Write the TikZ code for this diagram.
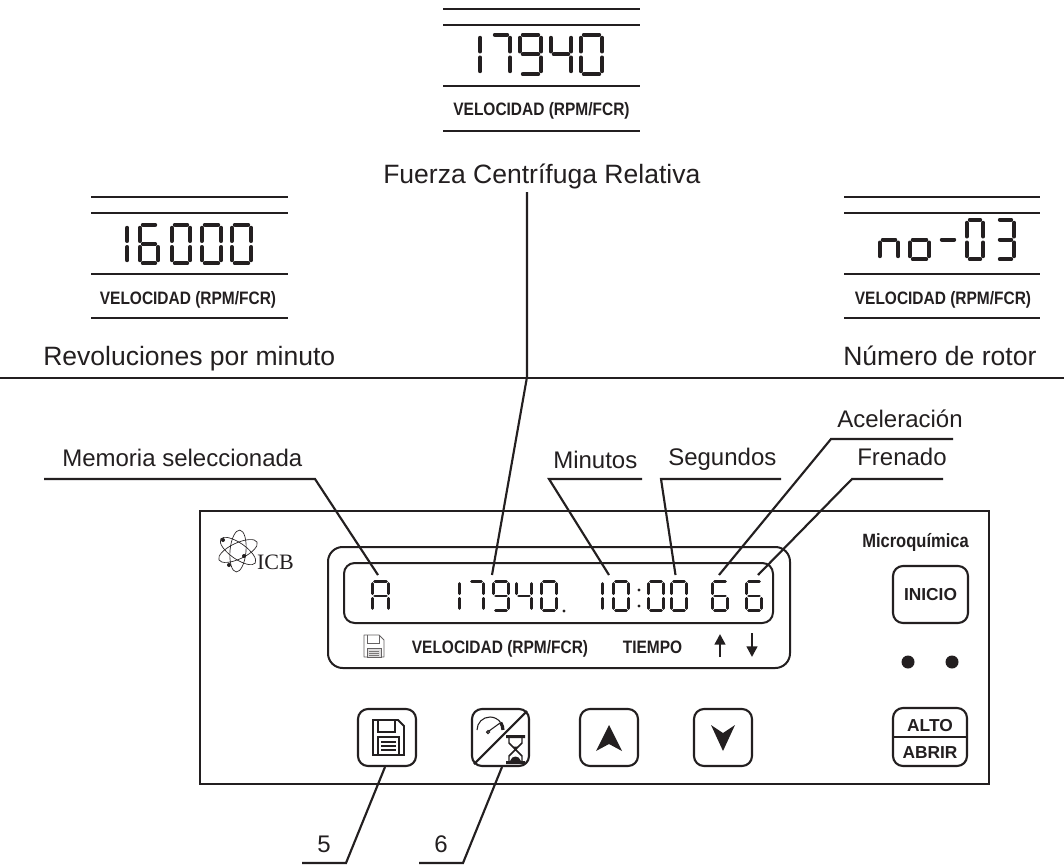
\documentclass[tikz,border=0pt]{standalone}
\usepackage{fontspec}
\usetikzlibrary{arrows.meta}
\setmainfont{Liberation Sans}
\newfontfamily\logofont{Liberation Serif}
\newfontfamily\narrowbold[FakeStretch=0.86]{Liberation Sans Bold}
\definecolor{ink}{HTML}{231F20}
\def\sgap{3}
\def\sinset{1.8}
\newcommand{\sevenseg}[6][]{%
  \pgfmathsetmacro\sxa{#2+\sinset}\pgfmathsetmacro\sya{#3+\sinset}%
  \pgfmathsetmacro\sxb{#4-\sinset}\pgfmathsetmacro\syb{#5-\sinset}%
  \pgfmathsetmacro\sym{(\sya+\syb)/2}%
  \coordinate (a1) at (\sxa+\sgap,\sya); \coordinate (a2) at (\sxb-\sgap,\sya);
  \coordinate (b1) at (\sxb,\sya+\sgap); \coordinate (b2) at (\sxb,\sym-\sgap);
  \coordinate (c1) at (\sxb,\sym+\sgap); \coordinate (c2) at (\sxb,\syb-\sgap);
  \coordinate (d1) at (\sxa+\sgap,\syb); \coordinate (d2) at (\sxb-\sgap,\syb);
  \coordinate (e1) at (\sxa,\sym+\sgap); \coordinate (e2) at (\sxa,\syb-\sgap);
  \coordinate (f1) at (\sxa,\sya+\sgap); \coordinate (f2) at (\sxa,\sym-\sgap);
  \coordinate (g1) at (\sxa+\sgap,\sym); \coordinate (g2) at (\sxb-\sgap,\sym);
  \foreach \s in {#6}{\draw[#1] (\s1) -- (\s2);}%
}
\tikzset{
  big seg/.style={ink,line width=3pt,line cap=round},
  lcd seg/.style={ink,line width=2.1pt,line cap=round},
  rule/.style={ink,line width=1.7pt},
  leader/.style={ink,line width=1.6pt,line join=miter},
  caption/.style={inner sep=0pt,anchor=base west,text=ink,font=\fontsize{19.9}{24}\selectfont},
  small caption/.style={inner sep=0pt,anchor=base west,text=ink,font=\fontsize{18}{22}\selectfont},
  legend/.style={inner sep=0pt,anchor=base,text=ink,font=\narrowbold\fontsize{13.5}{16}\selectfont},
  keytext/.style={inner sep=0pt,anchor=base,text=ink,font=\bfseries\fontsize{13}{16}\selectfont},
  keybox/.style={ink,line width=1.6pt,rounded corners=7.5pt,fill=white},
}
\begin{document}
\begin{tikzpicture}[x=0.75pt,y=-0.75pt]
\useasboundingbox (0,0) rectangle (1064,867);
\fill[white] (0,0) rectangle (1064,867);

% --- top display
\foreach \yy in {9,25,86,131} \draw[rule] (443,\yy) -- (640,\yy);
\sevenseg[big seg]{461}{33}{482}{76}{b,c}
\sevenseg[big seg]{490}{33}{512}{76}{a,b,c}
\sevenseg[big seg]{518}{33}{543}{76}{a,b,c,d,f,g}
\sevenseg[big seg]{549}{33}{573}{76}{b,c,f,g}
\sevenseg[big seg]{579}{33}{604}{76}{a,b,c,d,e,f}
\node[legend] (legT) at (541.5,115) {VELOCIDAD (RPM/FCR)};

% --- left display
\foreach \yy in {197,213,274,318} \draw[rule] (91,\yy) -- (288,\yy);
\sevenseg[big seg]{108}{223}{129}{265}{b,c}
\sevenseg[big seg]{138}{223}{160}{265}{a,c,d,e,f,g}
\sevenseg[big seg]{170}{223}{192}{265}{a,b,c,d,e,f}
\sevenseg[big seg]{200}{223}{223}{265}{a,b,c,d,e,f}
\sevenseg[big seg]{230}{223}{253}{265}{a,b,c,d,e,f}
\node[legend] (legL) at (188,304) {VELOCIDAD (RPM/FCR)};

% --- right display
\foreach \yy in {197,213,274,318} \draw[rule] (844,\yy) -- (1040,\yy);
\sevenseg[big seg]{878}{218}{900}{261}{c,e,g}
\sevenseg[big seg]{908}{218}{931}{261}{c,d,e,g}
\sevenseg[big seg]{937}{218}{959}{261}{g}
\sevenseg[big seg]{965}{218}{985}{261}{a,b,c,d,e,f}
\sevenseg[big seg]{995}{218}{1016}{261}{a,b,c,d,g}
\node[legend] (legR) at (943,304) {VELOCIDAD (RPM/FCR)};

% --- captions
\node[caption] (fuerza) at (383,183) {Fuerza Centrífuga Relativa};
\node[caption] (revol) at (43,365) {Revoluciones por minuto};
\node[caption] (rotor) at (843,365) {Número de rotor};
\draw[rule] (0,378) -- (1064,378);

\node[small caption] (memo) at (62,466) {Memoria seleccionada};
\node[small caption] (minu) at (553,468) {Minutos};
\node[small caption] (segu) at (668,465) {Segundos};
\node[small caption] (acel) at (837,427) {Aceleración};
\node[small caption] (fren) at (857,465) {Frenado};
\node[small caption,anchor=base] (n5) at (324,852) {5};
\node[small caption,anchor=base] (n6) at (441,852) {6};

% --- panel
\draw[ink,line width=1.9pt] (200,511) rectangle (989,784);
\node[inner sep=0pt,anchor=base,text=ink,font=\logofont\fontsize{16.5}{18}\selectfont] (icb) at (275.5,569) {ICB};
\foreach \ang in {-35,25,85}
  \draw[ink,line width=0.5pt,rotate around={\ang:(238,551)}] (238,551) ellipse [x radius=21,y radius=8];
\fill[ink] (223,540) circle (2) (229,565) circle (2) (244,556) circle (2);

\node[legend,font=\narrowbold\fontsize{14.4}{17}\selectfont] (micro) at (915.5,547) {Microquímica};

% display surround
\draw[ink,line width=1.5pt,rounded corners=11pt] (328,547) rectangle (790,668);
\draw[ink,line width=1.5pt,rounded corners=8pt] (344,563) rectangle (773,623);

\def\sgap{2.4}\def\sinset{1.2}
\sevenseg[lcd seg]{371}{580}{390}{612}{a,b,c,e,f,g}
\sevenseg[lcd seg]{444}{580}{461}{612}{b,c}
\sevenseg[lcd seg]{468}{580}{485}{612}{a,b,c}
\sevenseg[lcd seg]{492}{580}{510}{612}{a,b,c,d,f,g}
\sevenseg[lcd seg]{515}{580}{533}{612}{b,c,f,g}
\sevenseg[lcd seg]{540}{580}{558}{612}{a,b,c,d,e,f}
\fill[ink] (564,611) circle (1.7);
\sevenseg[lcd seg]{587}{580}{604}{612}{b,c}
\sevenseg[lcd seg]{612}{580}{630}{612}{a,b,c,d,e,f}
\fill[ink] (639,590) circle (1.7) (639,606) circle (1.7);
\sevenseg[lcd seg]{647}{580}{665}{612}{a,b,c,d,e,f}
\sevenseg[lcd seg]{670}{580}{688}{612}{a,b,c,d,e,f}
\sevenseg[lcd seg]{711}{580}{729}{612}{a,c,d,e,f,g}
\sevenseg[lcd seg]{745}{580}{763}{612}{a,c,d,e,f,g}

% legend row
\draw[ink!70,line width=0.6pt,line join=round] (364,635) -- (379,635) -- (384,640) -- (384,657) -- (364,657) -- cycle;
\draw[ink!70,line width=0.6pt] (367,635) -- (367,643) -- (379,643) -- (379,635);
\draw[ink!70,fill=ink!15,line width=0.6pt] (367,648) rectangle (381,657);
\draw[ink!60,line width=0.5pt] (369,651) -- (379,651) (369,653) -- (379,653) (369,655) -- (379,655);
\node[legend] (legP) at (500,653) {VELOCIDAD (RPM/FCR)};
\node[legend] (tiempo) at (652.5,653) {TIEMPO};
\coordinate (upA) at (720,657); \coordinate (upB) at (720,634);
\coordinate (dnA) at (752,633); \coordinate (dnB) at (752,657);
\draw[ink,line width=1.8pt,-{Triangle[length=8pt,width=8pt]}] (upA) -- (upB);
\draw[ink,line width=1.8pt,-{Triangle[length=8pt,width=8pt]}] (dnA) -- (dnB);

% right-hand controls
\draw[keybox] (893,566) rectangle (968,623);
\node[keytext] (inicio) at (930.5,600) {INICIO};
\fill[ink] (908,662) circle (6.5) (952,662) circle (6.5);
\draw[keybox] (893,708) rectangle (967,766);
\draw[ink,line width=1.3pt] (893,737) -- (967,737);
\node[keytext] (alto) at (930,731) {ALTO};
\node[keytext] (abrir) at (930,758) {ABRIR};

% lower keys
\draw[keybox] (358,709) rectangle (416,766);
\draw[keybox] (472,709) rectangle (529,766);
\draw[keybox] (580,709) rectangle (638,766);
\draw[keybox] (694,709) rectangle (752,766);

% floppy key
\draw[ink,line width=1.4pt,line join=miter] (373,720) -- (398,720) -- (404,726) -- (404,755) -- (373,755) -- cycle;
\draw[ink,line width=1.3pt] (378,720) -- (378,732) -- (395,732) -- (395,720);
\draw[ink,line width=1.3pt] (378,755) -- (378,737) -- (399,737) -- (399,755);
\draw[ink,line width=0.8pt] (381,742) -- (396,742) (381,746) -- (396,746) (381,750) -- (396,750);

% speed / time key
\draw[ink,line width=1.6pt] (527,711) -- (474,764);
\draw[ink,line width=0.8pt] (477,730) arc [start angle=180,end angle=325,radius=13];
\draw[ink,line width=2.4pt] (500.6,722.5) arc [start angle=325,end angle=360,radius=13];
\draw[ink,line width=0.8pt] (489,731) -- (500,723);
\draw[ink,line width=0.8pt] (488,732) circle (1.5);
\fill[ink] (506,735) rectangle (525,738) (506,761) rectangle (525,764);
\draw[ink,line width=1.1pt] (509,738) -- (509,743) -- (515.5,749.5) -- (509,756) -- (509,761)
                            (522,738) -- (522,743) -- (515.5,749.5) -- (522,756) -- (522,761);
\fill[ink] (510,761) .. controls (512,755) and (519,755) .. (521,761) -- cycle;
\fill[ink] (512.5,746.5) -- (518.5,746.5) -- (515.5,749.5) -- cycle;

% arrow keys
\fill[ink] (609,725) -- (622,751) -- (609,744) -- (596,751) -- cycle;
\fill[ink] (723,751) -- (735,725) -- (723,733) -- (711,725) -- cycle;

% --- leader lines
\coordinate (fTop) at (527,192); \coordinate (fEl) at (527,377); \coordinate (fEnd) at (492,575);
\draw[leader] (fTop) -- (fEl) -- (fEnd);
\coordinate (mA) at (44,479); \coordinate (mB) at (315,479); \coordinate (mC) at (378,575);
\draw[leader] (mA) -- (mB) -- (mC);
\coordinate (miA) at (642,479); \coordinate (miB) at (549,479); \coordinate (miC) at (609,575);
\draw[leader] (miA) -- (miB) -- (miC);
\coordinate (sA) at (781,479); \coordinate (sB) at (661,479); \coordinate (sC) at (675.5,575);
\draw[leader] (sA) -- (sB) -- (sC);
\coordinate (aA) at (953,439); \coordinate (aB) at (831,439); \coordinate (aC) at (719,575);
\draw[leader] (aA) -- (aB) -- (aC);
\coordinate (frA) at (943,479); \coordinate (frB) at (852,479); \coordinate (frC) at (758,575);
\draw[leader] (frA) -- (frB) -- (frC);
\coordinate (k5A) at (302,863); \coordinate (k5B) at (346,863); \coordinate (k5C) at (385,767);
\draw[leader] (k5A) -- (k5B) -- (k5C);
\coordinate (k6A) at (419,863); \coordinate (k6B) at (463,863); \coordinate (k6C) at (502,767);
\draw[leader] (k6A) -- (k6B) -- (k6C);
\end{tikzpicture}
\end{document}
